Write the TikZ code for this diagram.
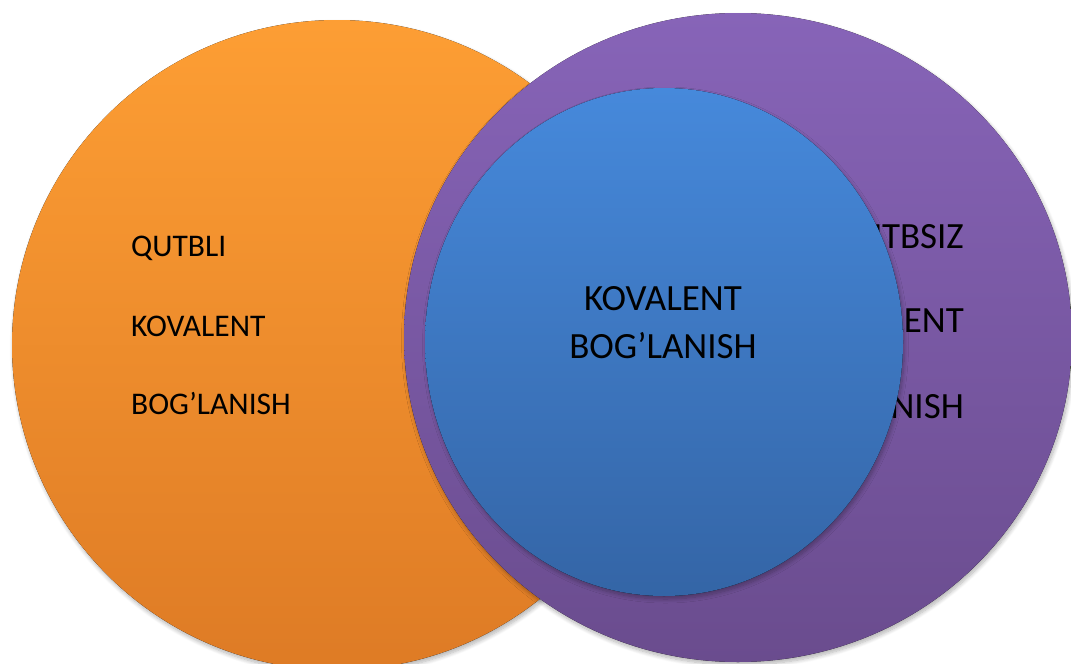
\documentclass[tikz,border=0pt]{standalone}
\usepackage{fontspec}
\setmainfont{Carlito}
\usetikzlibrary{shadows.blur}
\definecolor{orTop}{HTML}{FD9E34}
\definecolor{orBot}{HTML}{DE7B25}
\definecolor{puTop}{HTML}{8764B8}
\definecolor{puBot}{HTML}{6A4C8E}
\definecolor{blTop}{HTML}{4689DB}
\definecolor{blBot}{HTML}{3465A6}
\tikzset{
  shad/.style={blur shadow={shadow xshift=1.5pt, shadow yshift=-3pt, shadow blur steps=8, shadow blur radius=4pt, shadow opacity=30}},
  lbl/.style={inner sep=0pt, font=\fontsize{31.5}{36}\selectfont, text=black},
  biglbl/.style={inner sep=0pt, font=\fontsize{37}{44}\selectfont, text=black},
}
\begin{document}
\begin{tikzpicture}[x=1pt,y=-1pt]
\useasboundingbox (0,0) rectangle (1071,664);
\begin{scope}
\clip (0,0) rectangle (1071,664);
% orange circle
\fill[shad, top color=orTop, bottom color=orBot] (337,345) circle[radius=325];
\node[lbl, anchor=base west] (q1) at (131,256) {QUTBLI};
\node[lbl, anchor=base west] (q2) at (131,336) {KOVALENT};
\node[lbl, anchor=base west] (q3) at (131,414) {BOG’LANISH};
% purple circle
\fill[shad, top color=puTop, bottom color=puBot] (738,337.5) ellipse[x radius=334, y radius=324.5];
\node[biglbl, anchor=base east] (p1) at (964,248) {QUTBSIZ};
\node[biglbl, anchor=base east] (p2) at (964,332) {KOVALENT};
\node[biglbl, anchor=base east] (p3) at (964,418) {BOG’LANISH};
% blue circle
\fill[shad, top color=blTop, bottom color=blBot] (664,342) ellipse[x radius=239, y radius=254];
\node[biglbl, anchor=base] (b1) at (663,310) {KOVALENT};
\node[biglbl, anchor=base] (b2) at (663,358) {BOG’LANISH};
\end{scope}
\end{tikzpicture}
\end{document}
